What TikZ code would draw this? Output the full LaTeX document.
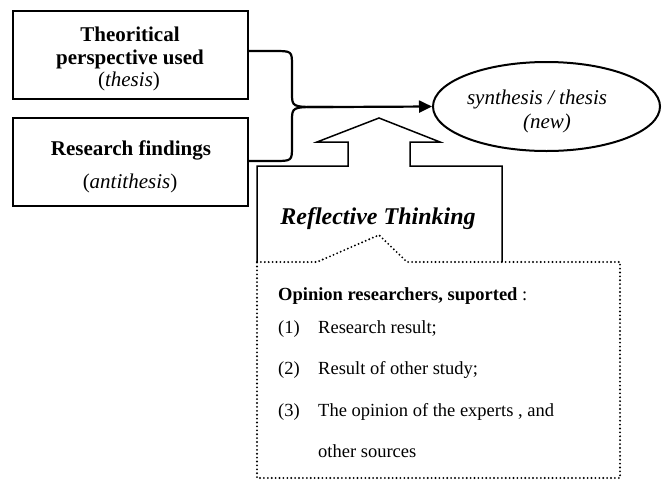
\documentclass[tikz,border=0pt]{standalone}
\usepackage{fontspec}
\setmainfont{Liberation Serif}
\usetikzlibrary{arrows.meta,shapes.geometric}
\begin{document}
\begin{tikzpicture}[x=1pt,y=-1pt,
  boxline/.style={draw, line width=2.2pt, inner sep=0pt},
  conn/.style={line width=2.2pt},
  blk/.style={line width=1.5pt, line join=miter},
  dotline/.style={line width=2.1pt, dash pattern=on 0pt off 3.9pt, line cap=round},
  txt/.style={anchor=base, inner sep=0pt},
  txtl/.style={anchor=base west, inner sep=0pt},
  bigb/.style={font=\fontsize{21}{24}\selectfont\bfseries},
  bigr/.style={font=\fontsize{21}{24}\selectfont},
  bigi/.style={font=\fontsize{21}{24}\selectfont\itshape},
  huge/.style={font=\fontsize{24}{28}\selectfont\bfseries\itshape},
  small/.style={font=\fontsize{18.5}{22}\selectfont}
]
\useasboundingbox (0,0) rectangle (668,480);

% boxes
\node[boxline, minimum width=235pt, minimum height=88pt] (b1) at (130.5,55) {};
\node[boxline, minimum width=235pt, minimum height=88pt] (b2) at (130.5,162) {};
\node[draw, ellipse, line width=2pt, minimum width=227pt, minimum height=89pt, inner sep=0pt] (syn) at (546.5,106.5) {};

% texts in boxes
\node[txt, bigb] (t1a) at (130,41) {Theoritical};
\node[txt, bigb] (t1b) at (130,64) {perspective used};
\node[txt, bigr] (t1c) at (129,86) {(\textit{thesis})};
\node[txt, bigb] (t2a) at (131,155) {Research findings};
\node[txt, bigr] (t2b) at (130,188) {(\textit{antithesis})};
\node[txt, bigi] (s1) at (537,104) {synthesis / thesis};
\node[txt, bigi] (s2) at (547,128) {(new)};

% connectors
\coordinate (j) at (333,107);
\draw[conn] ([yshift=4pt]b1.east) -- (274,51) .. controls (292,51) .. (292,66) -- (292,93) .. controls (292,107) .. (320,107) -- (j);
\draw[conn] ([yshift=1pt]b2.east) -- (274,161) .. controls (292,161) .. (292,146) -- (292,121) .. controls (292,107) .. (320,107) -- (j);
\draw[conn, -{Triangle[length=13pt,width=12pt]}] (j) -- (syn.west);

% block arrow
\draw[blk] (257,262) -- (257,166) -- (348,166) -- (348,142) -- (317,142) -- (379,118) -- (440,142) -- (410,142) -- (410,166) -- (502,166) -- (502,262);
\node[txt, huge] (rt) at (378,224) {Reflective Thinking};

% dotted box
\draw[dotline] (257,262) -- (317,262) -- (379,235) -- (407,262) -- (620,262) -- (620,478) -- (257,478) -- cycle;

\node[txtl, small] (op) at (278,300) {\textbf{Opinion researchers, suported} :};
\node[txtl, small] (n1) at (278,333) {(1)};
\node[txtl, small] (l1) at (318,333) {Research result;};
\node[txtl, small] (n2) at (278,374) {(2)};
\node[txtl, small] (l2) at (318,374) {Result of other study;};
\node[txtl, small] (n3) at (278,416) {(3)};
\node[txtl, small] (l3) at (318,416) {The opinion of the experts , and};
\node[txtl, small] (l4) at (318,457) {other sources};
\end{tikzpicture}
\end{document}
